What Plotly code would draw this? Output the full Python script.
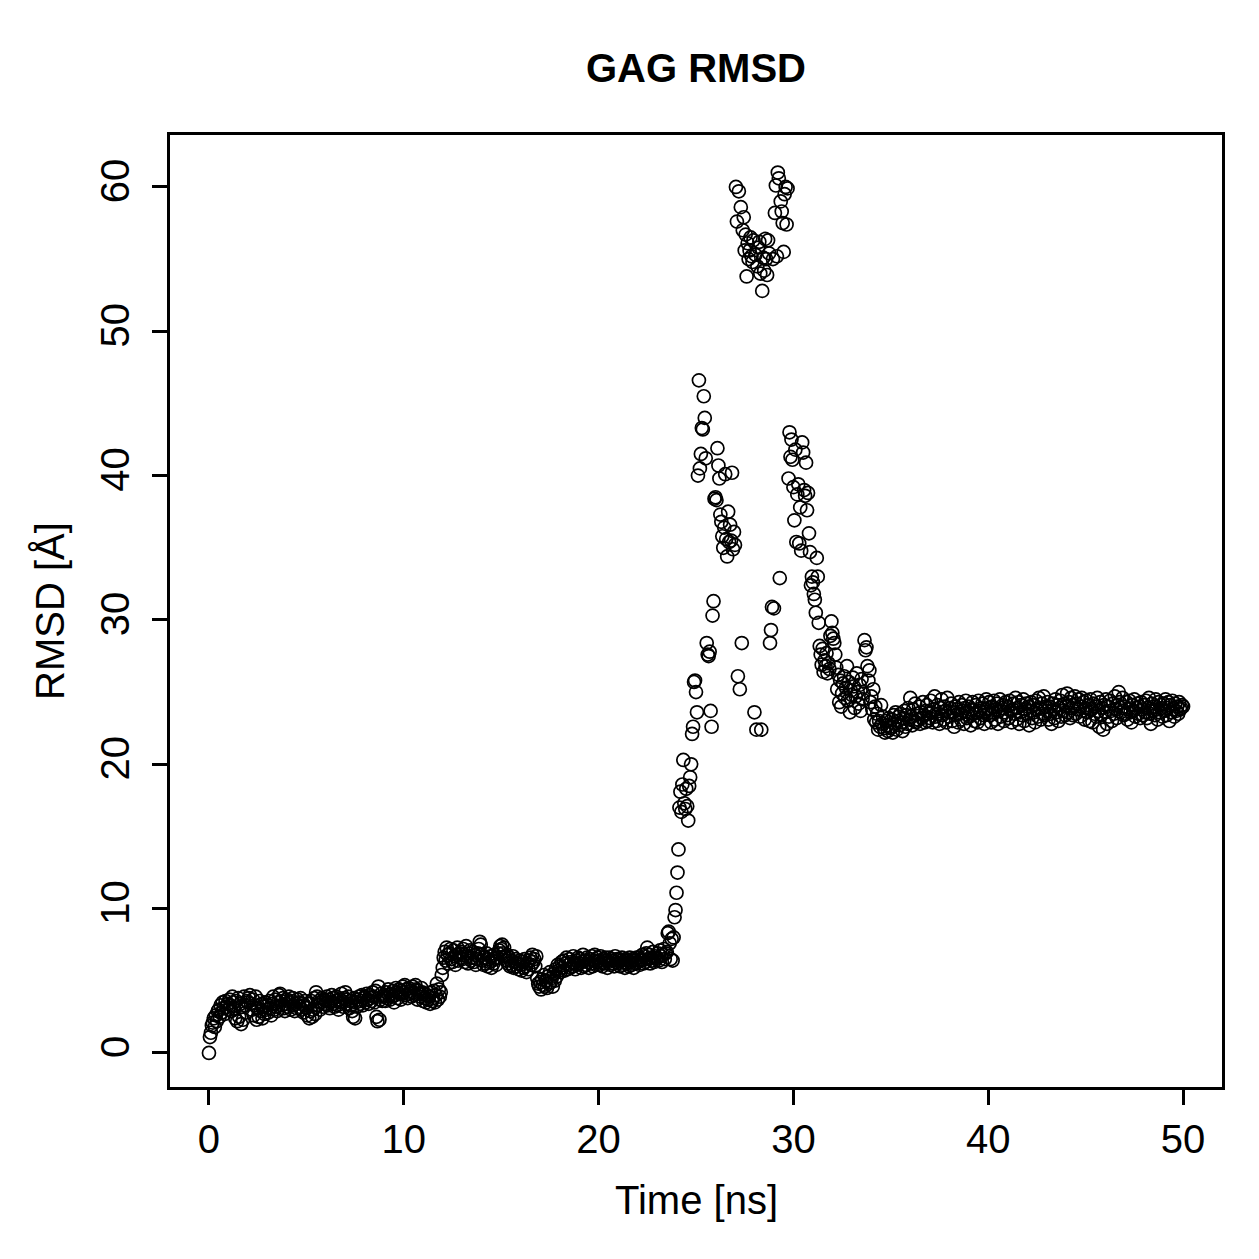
import plotly.graph_objects as go

# RMSD values [Å], one frame every 0.05 ns (each row = 1 ns)
rmsd = [
    0.0, 1.1, 1.4, 1.9, 2.1, 2.4, 1.8, 2.6, 2.2, 2.9, 3.0, 2.5, 3.3, 2.8, 3.5, 3.1, 2.7, 3.6, 3.2, 3.4,
    3.0, 3.7, 3.3, 2.9, 3.9, 3.5, 3.1, 2.4, 3.6, 2.2, 3.8, 2.5, 3.4, 2.0, 3.2, 2.3, 3.9, 3.3, 2.8, 3.6,
    3.5, 3.8, 4.0, 3.4, 3.0, 3.7, 2.6, 3.3, 3.9, 2.3, 3.1, 2.5, 3.6, 2.9, 3.4, 2.4, 3.2, 2.7, 3.5, 3.0,
    3.3, 2.8, 3.6, 3.1, 2.6, 3.4, 3.9, 3.0, 3.7, 3.2, 2.9, 3.5, 4.0, 4.1, 3.6, 3.3, 3.8, 3.1, 2.9, 3.4,
    3.7, 3.2, 3.9, 3.5, 3.0, 3.6, 3.8, 3.3, 2.9, 3.4, 3.1, 3.7, 3.5, 3.2, 3.8, 3.0, 3.4, 2.8, 3.3, 3.6,
    3.1, 2.6, 3.4, 2.4, 2.9, 3.6, 2.5, 3.0, 3.8, 2.7, 4.2, 3.9, 3.3, 3.6, 3.0, 3.5, 3.8, 3.2, 3.7, 3.4,
    3.6, 3.9, 3.3, 3.7, 3.1, 3.5, 4.0, 3.8, 3.4, 3.2, 3.6, 3.9, 3.3, 3.0, 3.7, 3.5, 4.1, 3.6, 3.2, 3.8,
    4.2, 3.7, 3.4, 3.9, 3.1, 3.6, 3.3, 2.9, 2.5, 3.8, 2.4, 3.5, 3.2, 3.7, 3.9, 3.4, 3.6, 4.0, 3.3, 3.8,
    3.9, 3.5, 4.1, 3.7, 3.4, 4.0, 3.8, 3.6, 4.2, 3.9, 3.5, 4.3, 2.5, 2.2, 4.6, 2.3, 3.7, 4.1, 3.6, 3.9,
    4.0, 3.6, 4.2, 3.8, 4.4, 4.0, 3.7, 4.1, 3.9, 4.3, 3.5, 4.0, 4.5, 4.2, 3.8, 4.4, 4.1, 3.7, 4.3, 4.6,
    4.2, 4.7, 4.0, 4.4, 3.8, 4.5, 4.1, 4.3, 3.9, 4.6, 4.2, 4.0, 4.7, 4.4, 3.7, 4.3, 4.1, 3.9, 4.5, 4.2,
    3.6, 4.1, 3.8, 3.5, 4.0, 3.7, 3.9, 3.4, 4.2, 3.6, 3.8, 4.3, 3.5, 4.0, 4.8, 3.7, 4.4, 3.9, 4.2, 5.4,
    5.9, 6.6, 7.0, 6.4, 7.3, 6.8, 6.2, 6.9, 7.2, 6.5, 6.3, 7.1, 6.7, 6.1, 6.8, 7.3, 6.4, 6.9, 6.6, 7.0,
    6.5, 7.2, 6.8, 6.3, 7.4, 6.7, 6.2, 6.9, 7.1, 6.4, 6.6, 7.0, 6.3, 6.8, 6.1, 6.5, 6.9, 7.2, 7.7, 7.5,
    6.8, 6.4, 6.1, 6.6, 6.2, 6.9, 6.0, 6.5, 6.3, 6.7, 5.9, 6.4, 6.2, 6.8, 6.5, 6.1, 6.6, 6.9, 7.1, 7.4,
    7.2, 7.5, 6.9, 7.3, 6.7, 6.4, 6.8, 6.2, 6.6, 6.0, 6.4, 6.1, 6.7, 5.9, 6.3, 6.5, 6.0, 6.2, 5.8, 6.4,
    6.1, 5.7, 6.3, 5.9, 6.5, 6.0, 5.6, 6.2, 5.8, 6.4, 6.6, 6.1, 6.8, 6.3, 6.5, 6.0, 6.7, 5.2, 4.8, 4.6,
    4.9, 4.4, 5.1, 4.7, 5.4, 4.6, 5.0, 4.5, 5.3, 4.8, 5.6, 4.9, 5.2, 4.6, 5.5, 5.0, 5.8, 5.3, 6.1, 5.7,
    6.0, 5.6, 6.3, 5.9, 6.4, 5.7, 6.2, 6.6, 5.8, 6.1, 6.5, 5.9, 6.3, 6.0, 6.7, 6.2, 5.8, 6.4, 6.1, 6.6,
    6.2, 6.5, 5.9, 6.3, 6.8, 6.0, 6.4, 6.1, 6.6, 6.3, 5.9, 6.5, 6.2, 6.7, 6.0, 6.4, 6.8, 6.1, 6.3, 6.6,
    6.4, 6.1, 6.7, 6.3, 6.0, 6.5, 6.2, 6.6, 6.4, 5.9, 6.3, 6.6, 6.1, 6.5, 6.2, 6.4, 6.0, 6.7, 6.3, 6.5,
    6.2, 6.5, 6.0, 6.4, 6.6, 6.1, 6.3, 5.9, 6.5, 6.2, 6.4, 6.0, 6.6, 6.3, 6.1, 6.5, 5.9, 6.4, 6.2, 6.6,
    6.3, 6.6, 6.1, 6.5, 6.4, 6.8, 6.2, 6.7, 6.3, 6.9, 7.3, 6.5, 6.8, 6.2, 6.6, 6.4, 7.0, 6.3, 6.7, 6.5,
    6.6, 6.9, 6.4, 7.1, 6.7, 6.3, 6.8, 7.2, 6.5, 6.9, 7.0, 8.3, 8.4, 7.6, 6.5, 7.9, 6.4, 8.0, 9.4, 9.9,
    11.1, 12.5, 14.1, 17.0, 18.1, 16.7, 18.6, 20.3, 17.3, 16.9, 18.3, 17.1, 16.1, 18.5, 19.1, 20.0, 22.1, 22.6, 25.7, 25.8,
    25.0, 23.6, 40.0, 46.6, 40.5, 41.5, 43.3, 43.2, 45.5, 44.0, 41.2, 28.4, 27.6, 27.5, 27.8, 23.7, 22.6, 30.3, 31.3, 38.4,
    38.5, 38.3, 41.9, 40.7, 39.8, 37.3, 36.8, 35.8, 35.0, 36.4, 40.1, 35.6, 34.4, 37.5, 35.4, 36.6, 35.5, 40.2, 34.9, 36.1,
    35.2, 60.0, 57.6, 26.1, 59.7, 25.2, 58.6, 28.4, 57.0, 57.9, 55.6, 56.7, 53.8, 56.1, 55.0, 55.6, 56.5, 55.2, 54.8, 56.3,
    23.6, 55.3, 22.4, 54.5, 55.8, 56.2, 54.0, 22.4, 52.8, 55.1, 54.2, 56.4, 55.0, 53.9, 56.3, 55.4, 28.4, 29.3, 30.9, 55.0,
    30.8, 58.2, 60.1, 55.2, 61.0, 60.6, 32.9, 59.0, 58.3, 57.5, 55.5, 59.5, 60.0, 57.4, 59.9, 39.8, 43.0, 41.3, 42.5, 41.1,
    39.2, 36.9, 41.8, 35.4, 38.7, 39.4, 35.3, 37.8, 34.8, 42.3, 41.6, 39.0, 38.6, 40.9, 37.6, 38.8, 36.0, 34.7, 32.4, 33.0,
    32.6, 31.8, 31.4, 30.5, 34.3, 33.0, 29.8, 28.2, 27.6, 26.9, 28.0, 26.4, 27.2, 26.8, 27.7, 26.3, 27.0, 26.6, 28.9, 29.9,
    29.1, 28.7, 28.4, 27.6, 26.7, 25.2, 26.2, 24.3, 25.8, 24.0, 24.9, 25.6, 26.1, 24.6, 25.3, 26.8, 24.4, 25.7, 23.6, 25.1,
    24.8, 26.0, 25.4, 23.9, 24.7, 26.3, 25.0, 24.2, 25.5, 23.7, 25.9, 24.5, 24.9, 28.6, 27.9, 28.1, 26.8, 25.8, 26.5, 24.3,
    24.7, 23.8, 25.2, 23.1, 24.0, 22.9, 23.5, 22.4, 23.0, 22.6, 24.1, 22.8, 23.3, 22.5, 22.2, 23.0, 22.7, 22.3, 23.2, 22.6,
    22.5, 23.1, 22.2, 23.4, 22.8, 23.6, 22.4, 23.0, 23.3, 22.7, 23.5, 22.9, 22.3, 23.2, 23.7, 22.6, 23.4, 22.8, 23.9, 23.1,
    24.6, 23.3, 22.7, 23.8, 23.0, 24.2, 22.9, 23.5, 23.1, 24.0, 22.8, 23.6, 23.2, 24.3, 23.4, 22.9, 23.7, 24.1, 23.0, 23.5,
    23.2, 24.4, 23.6, 22.9, 23.8, 24.7, 23.3, 23.0, 24.1, 23.5, 22.8, 23.9, 24.5, 23.4, 23.1, 24.0, 23.7, 22.9, 24.6, 23.6,
    23.3, 23.9, 24.2, 23.0, 23.6, 22.6, 24.0, 23.4, 23.8, 22.9, 24.3, 23.5, 23.1, 24.1, 23.7, 22.8, 23.9, 24.4, 23.2, 23.6,
    24.0, 23.3, 22.7, 23.8, 24.3, 23.5, 23.0, 24.1, 23.6, 22.9, 24.4, 23.7, 23.2, 23.9, 24.2, 23.4, 22.8, 23.8, 24.5, 23.5,
    23.9, 24.3, 23.4, 22.9, 24.0, 23.6, 24.4, 23.1, 23.8, 24.2, 22.8, 23.7, 24.5, 23.3, 23.9, 24.1, 23.0, 23.6, 24.3, 23.4,
    24.0, 23.2, 24.4, 23.7, 22.9, 23.8, 24.2, 23.5, 24.6, 23.1, 23.9, 24.3, 22.8, 23.6, 24.1, 23.4, 24.5, 23.0, 23.8, 24.2,
    23.5, 24.0, 22.7, 23.7, 24.3, 23.2, 24.1, 23.6, 22.9, 24.4, 23.8, 23.3, 24.6, 23.9, 23.1, 24.2, 23.5, 24.7, 23.4, 24.0,
    23.7, 24.3, 23.1, 24.0, 23.5, 22.8, 24.2, 23.8, 23.2, 24.5, 23.6, 24.1, 23.0, 23.9, 24.4, 23.3, 24.8, 23.7, 24.2, 23.4,
    24.0, 24.9, 23.6, 24.3, 23.2, 24.6, 23.9, 23.4, 24.1, 24.7, 23.5, 24.2, 23.8, 24.5, 23.3, 24.0, 24.6, 23.7, 24.3, 23.1,
    23.9, 24.4, 23.6, 24.1, 23.0, 24.5, 23.8, 22.9, 24.2, 23.5, 24.0, 23.3, 24.6, 23.7, 22.6, 24.3, 23.4, 23.9, 22.4, 24.1,
    23.6, 24.5, 22.8, 24.0, 23.3, 24.4, 23.7, 23.0, 24.2, 23.5, 24.7, 23.8, 23.2, 24.1, 25.0, 24.3, 23.6, 23.9, 24.6, 23.4,
    24.0, 23.5, 24.3, 23.1, 23.8, 24.4, 23.6, 22.9, 24.1, 23.7, 24.5, 23.3, 23.9, 24.2, 23.5, 24.0, 23.2, 24.3, 23.8, 23.4,
    24.1, 23.6, 24.4, 23.2, 23.9, 24.6, 23.5, 22.8, 24.2, 23.7, 24.0, 23.4, 24.5, 23.8, 23.1, 24.3, 23.6, 24.1, 23.9, 23.3,
    24.2, 23.7, 24.5, 23.4, 23.9, 24.3, 23.0, 24.1, 23.6, 24.4, 23.8, 23.3, 24.2, 23.7, 24.0, 23.5, 24.3, 23.8, 23.9, 24.1,
    24.0,
]
time_step_ns = 0.05
time_ns = [round(i * time_step_ns, 2) for i in range(len(rmsd))]

x_ticks = [0, 10, 20, 30, 40, 50]
y_ticks = [0, 10, 20, 30, 40, 50, 60]

FONT = "Liberation Sans, Arial, Helvetica, sans-serif"

fig = go.Figure(
    go.Scatter(
        x=time_ns, y=rmsd, mode="markers",
        marker=dict(symbol="circle-open", size=13, color="black",
                    line=dict(width=1.7, color="black")),
        hoverinfo="x+y",
    )
)

W, H = 1259, 1259
L, R, T, B = 170, 37, 135, 172

axis_common = dict(
    showgrid=False, zeroline=False, showline=True, mirror=True,
    linecolor="black", linewidth=2.5,
    ticks="outside", ticklen=15, tickwidth=2.5, tickcolor="black",
    tickfont=dict(family=FONT, size=40, color="black"),
)

fig.update_layout(
    width=W, height=H,
    margin=dict(l=L, r=R, t=T, b=B, pad=0),
    paper_bgcolor="white", plot_bgcolor="white",
    showlegend=False,
    xaxis=dict(range=[-2, 52], tickvals=x_ticks, ticklabelstandoff=0, **axis_common),
    yaxis=dict(range=[-2.36, 63.6], tickvals=y_ticks, tickangle=-90,
               ticklabelstandoff=7, **axis_common),
    annotations=[
        dict(text="<b>GAG RMSD</b>", xref="paper", yref="paper", x=0.5,
             y=(H - B - 68) / (H - T - B), yanchor="middle", showarrow=False,
             font=dict(family=FONT, size=40, color="black")),
        dict(text="Time [ns]", xref="paper", yref="paper", x=0.5,
             y=-(1200 - (H - B)) / (H - T - B), yanchor="middle", showarrow=False,
             font=dict(family=FONT, size=40, color="black")),
        dict(text="RMSD [Å]", xref="paper", yref="paper",
             x=-(L - 50) / (W - L - R), y=0.5, xanchor="center", yanchor="middle",
             textangle=-90, showarrow=False,
             font=dict(family=FONT, size=40, color="black")),
    ],
)

fig.write_html("out.html")
